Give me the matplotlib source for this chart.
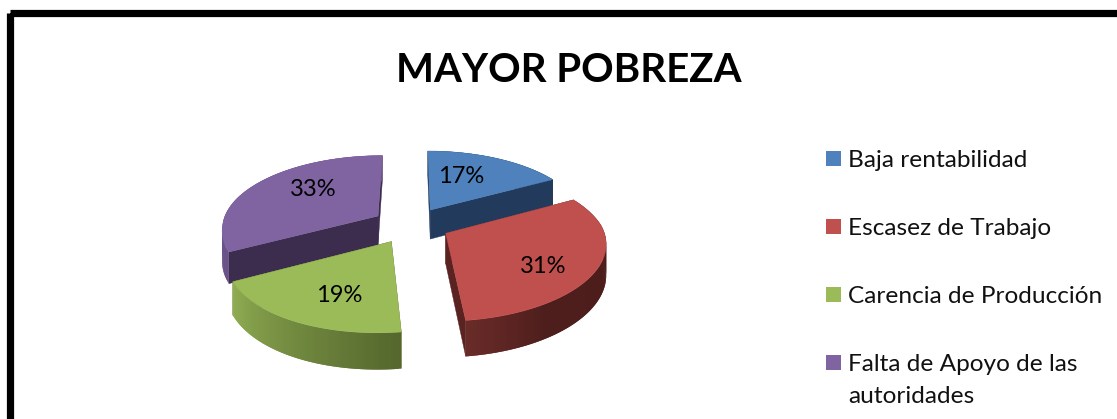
import numpy as np
import matplotlib
matplotlib.use('Agg')
import matplotlib.pyplot as plt
from matplotlib.colors import to_rgb
from matplotlib.patches import Polygon, Rectangle

title = 'MAYOR POBREZA'
categories = ['Baja rentabilidad', 'Escasez de Trabajo', 'Carencia de Producción',
              'Falta de Apoyo de las\nautoridades']
values = [17, 31, 19, 33]
labels = ['17%', '31%', '19%', '33%']

top_colors = ['#4F81BD', '#C0504D', '#9BBB59', '#8064A2']
wall_colors = ['#223A5C', '#5A2321', '#566A2E', '#3C2C4E']

# (angle, colour) stops for the outer rim of each slice
rim_stops = [
    [(0, '#223A5C'), (61, '#223A5C')],
    [(61, '#4A1C1A'), (145, '#4E1E1C'), (173, '#6A2C29')],
    [(173, '#55672D'), (241, '#90AE53')],
    [(241, '#6A5388'), (360, '#6A5388')],
]

# projection of the tilted pie, figure pixels
cx, cy = 413, 225
R, Rk = 156, 72
persp = 0.15
explode = 0.25
depth = 30

label_pos = [(461, 183), (543, 273), (339, 302), (313, 196)]
legend_y = [167, 235, 303, 371]

plt.rcParams['font.family'] = ['Lato', 'DejaVu Sans']

fig = plt.figure(figsize=(11.17, 4.19), dpi=100)
ax = fig.add_axes([0, 0, 1, 1])
ax.set_xlim(0, 1117)
ax.set_ylim(419, 0)
ax.axis('off')


def project(x, y, down=0.0):
    x = np.asarray(x)
    y = np.asarray(y)
    s = 1 / (1 + persp * y)
    front = np.minimum(y, 0)
    lean = -2 + 5 * front - 4 * front ** 2  # the near side sits further left in the picture
    return np.column_stack([cx + R * x * s + lean, cy - Rk * y * s + down * depth * s])


def mix(stops, a):
    angles = [p[0] for p in stops]
    rgb = np.array([to_rgb(p[1]) for p in stops])
    return [np.interp(a, angles, rgb[:, i]) for i in range(3)]


edges = np.concatenate([[0], np.cumsum(values)]) / np.sum(values) * 360

# border of the chart area, runs off the picture right and below
ax.add_patch(Rectangle((9.5, 13.5), 1200, 600, fill=False, ec='black', lw=5.2,
                       joinstyle='round'))

# back slices first so the front ones paint over them
for i in [3, 0, 2, 1]:
    a0, a1 = edges[i], edges[i + 1]
    mid = np.radians((a0 + a1) / 2)
    ox, oy = explode * np.sin(mid), explode * np.cos(mid)
    th = np.linspace(a0, a1, 90)
    xs = ox + np.sin(np.radians(th))
    ys = oy + np.cos(np.radians(th))

    # cut faces
    for xe, ye in [(xs[0], ys[0]), (xs[-1], ys[-1])]:
        px = np.array([ox, xe])
        py = np.array([oy, ye])
        dn = project(px, py, 1)
        up = project(px, py, 0)
        ax.add_patch(Polygon(np.vstack([up, dn[::-1]]), fc=wall_colors[i], ec=wall_colors[i], lw=0.3))

    # outer rim in overlapping strips, so the shading shows no seams
    for j in range(len(th) - 1):
        up = project(xs[j:j + 3], ys[j:j + 3], 0)
        dn = project(xs[j:j + 3], ys[j:j + 3], 1)
        ax.add_patch(Polygon(np.vstack([up, dn[::-1]]), fc=mix(rim_stops[i], th[j]), ec='none'))

    # top face
    top = project(np.concatenate([[ox], xs]), np.concatenate([[oy], ys]), 0)
    ax.add_patch(Polygon(top, fc=top_colors[i], ec=top_colors[i], lw=0.3))

for (lx, ly), txt in zip(label_pos, labels):
    ax.text(lx, ly, txt, ha='center', va='baseline', fontsize=17, color='black')

ax.text(569, 82, title, ha='center', va='baseline', fontsize=29, fontweight='bold', color='black')

for name, color, by in zip(categories, top_colors, legend_y):
    ax.add_patch(Rectangle((826, by - 16), 15, 15, fc=color, ec='none'))
    first, *rest = name.split('\n')
    ax.text(848, by, first, ha='left', va='baseline', fontsize=17.6, color='#111111')
    for k, extra in enumerate(rest):
        ax.text(848, by + 32 * (k + 1), extra, ha='left', va='baseline', fontsize=17.6, color='#111111')

fig.savefig('out.png', dpi=100)
